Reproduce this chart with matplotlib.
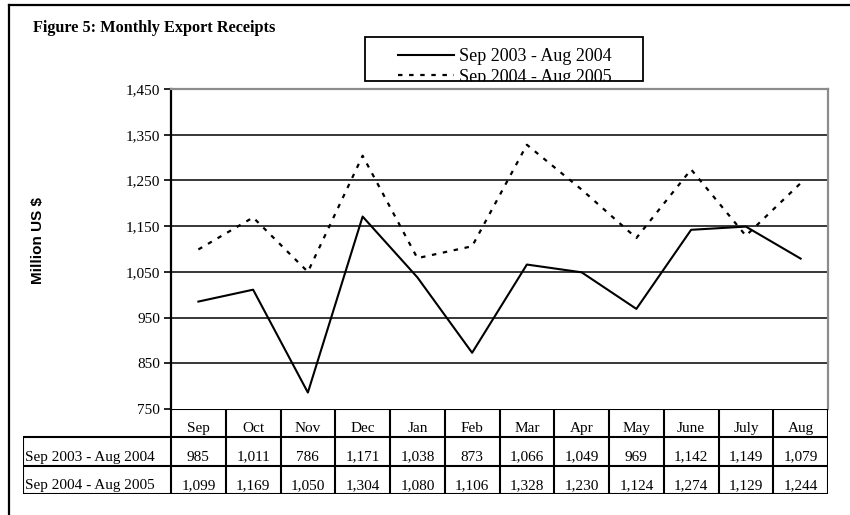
import matplotlib
matplotlib.use("Agg")
import matplotlib.pyplot as plt
from matplotlib.lines import Line2D
from matplotlib.patches import Rectangle
from matplotlib.transforms import Bbox, TransformedBbox

months = ["Sep", "Oct", "Nov", "Dec", "Jan", "Feb", "Mar", "Apr", "May", "June", "July", "Aug"]
series_names = ["Sep 2003 - Aug 2004", "Sep 2004 - Aug 2005"]
exports_0304 = [985, 1011, 786, 1171, 1038, 873, 1066, 1049, 969, 1142, 1149, 1079]
exports_0405 = [1099, 1169, 1050, 1304, 1080, 1106, 1328, 1230, 1124, 1274, 1129, 1244]
yticks = [750, 850, 950, 1050, 1150, 1250, 1350, 1450]

W, H = 850, 515
fig = plt.figure(figsize=(8.5, 5.15), dpi=100)
serif = "Liberation Serif"
sans = "Liberation Sans"

def fbox(l, t, r, b):
    return [l / W, 1 - b / H, (r - l) / W, (b - t) / H]

# plot area in pixel coords
L, T, R, B = 171, 89, 828, 409
ax = fig.add_axes(fbox(L, T, R, B))

n = len(months)
x = list(range(n))
ax.plot(x, exports_0304, color="black", lw=1.5, label=series_names[0])
ax.plot(x, exports_0405, color="black", lw=1.6, linestyle=(0, (2, 3)), label=series_names[1])

ax.set_xlim(-0.5, n - 0.5)
ax.set_ylim(750, 1450)
ax.set_yticks(yticks)
ax.set_yticklabels([f"{v:,}" for v in yticks], fontfamily=serif, fontsize=11)
ax.set_xticks([])
for v in yticks[1:-1]:
    ax.axhline(v, color="black", lw=1.1, zorder=0)
ax.tick_params(axis="y", direction="out", length=5, width=1.2, color="black", pad=3)
ax.spines["left"].set_linewidth(1.6)
ax.spines["left"].set_color("black")
ax.spines["bottom"].set_visible(False)
for s in ("top", "right"):
    ax.spines[s].set_color("#8c8c8c")
    ax.spines[s].set_linewidth(1.6)

ax.set_ylabel("Million US $", fontfamily=sans, fontweight="bold", fontsize=11, labelpad=0)
ax.yaxis.set_label_coords((45 - L) / (R - L), (B - 240) / (B - T))

# data table below the plot
TL, TB = 23, 494
axt = fig.add_axes(fbox(TL, B, R, TB))
col_w = (R - L) / n
lab_cols = (L - TL) / col_w
axt.set_xlim(-0.5 - lab_cols, n - 0.5)
axt.set_ylim(3, 0)
axt.axis("off")
lw = 1.5
rows = [exports_0304, exports_0405]
axt.hlines(0, -0.5, n - 0.5, color="black", lw=lw)
for yy in (1, 2, 3):
    axt.hlines(yy, -0.5 - lab_cols, n - 0.5, color="black", lw=lw)
for c in range(n + 1):
    axt.vlines(c - 0.5, 0, 3, color="black", lw=lw)
axt.vlines(-0.5 - lab_cols, 1, 3, color="black", lw=lw)
dy = 0.2
for c, m in enumerate(months):
    axt.text(c, 0.5 + dy, m, ha="center", va="center", fontfamily=serif, fontsize=11)
for r, (name, vals) in enumerate(zip(series_names, rows)):
    axt.text(-0.5 - lab_cols + 0.04, r + 1.5 + dy, name, ha="left", va="center",
             fontfamily=serif, fontsize=11)
    for c, v in enumerate(vals):
        axt.text(c, r + 1.5 + dy, f"{v:,}", ha="center", va="center", fontfamily=serif, fontsize=11)

# title
fig.text(33 / W, 1 - 28 / H, "Figure 5: Monthly Export Receipts", fontfamily=serif,
         fontweight="bold", fontsize=11.7, va="center", ha="left")

# legend
box = Rectangle((365 / W, 1 - 81 / H), (643 - 365) / W, 44 / H, transform=fig.transFigure,
                fill=False, edgecolor="black", lw=1.3, zorder=5)
fig.add_artist(box)
leg = fig.legend(loc="upper left", bbox_to_anchor=(398 / W, 1 - 48 / H),
                 prop={"family": serif, "size": 13}, frameon=False,
                 borderpad=0, labelspacing=0.2, handlelength=3.1,
                 handletextpad=0.3, borderaxespad=0)
clip = TransformedBbox(Bbox([[365 / W, 1 - 81 / H], [643 / W, 1 - 37 / H]]), fig.transFigure)
for t in leg.get_texts():
    t.set_clip_box(clip)
    t.set_clip_on(True)

# outer frame (top and left)
fig.add_artist(Line2D([9 / W, 1], [1 - 5 / H, 1 - 5 / H], transform=fig.transFigure,
                      color="black", lw=1.6))
fig.add_artist(Line2D([9 / W, 9 / W], [1 - 5 / H, 0], transform=fig.transFigure,
                      color="black", lw=1.6))

fig.savefig("out.png", dpi=100, facecolor="white")
